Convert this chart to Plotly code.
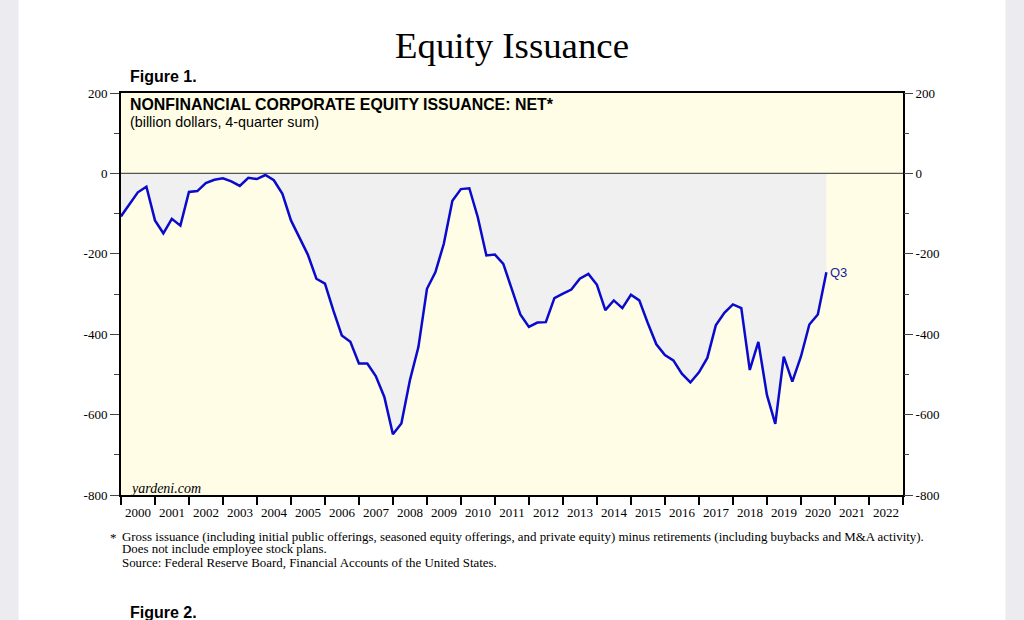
import plotly.graph_objects as go
import pandas as pd

# Net equity issuance, nonfinancial corporate, billion $, 4-quarter sum (quarterly, 1999Q4..2020Q3)
first_quarter_end = "1999-12-31"
net_issuance = [
    -107, -76, -47, -33, -117, -149, -113, -130, -46, -44,
    -24, -16, -12, -20, -31, -11, -14, -4, -17, -51,
    -117, -159, -202, -262, -274, -341, -403, -419, -473, -473,
    -504, -556, -649, -622, -515, -432, -287, -246, -175, -68,
    -39, -37, -109, -204, -202, -225, -287, -351, -382, -371,
    -370, -310, -299, -289, -262, -250, -277, -340, -316, -335,
    -302, -316, -372, -425, -452, -465, -498, -520, -495, -459,
    -378, -347, -326, -335, -489, -419, -551, -623, -456, -518,
    -456, -376, -351, -246,
]
years = list(range(2000, 2023))
y_ticks = [200, 0, -200, -400, -600, -800]
y_ticktext = ["200", "0", "-200", "-400", "-600", "-800"]
last_label = "Q3"

dates = pd.date_range(first_quarter_end, periods=len(net_issuance), freq="QE")
year_mid = [f"{y}-07-02" for y in years]

SERIF = "Liberation Serif, Times New Roman, serif"
SANS = "Liberation Sans, Arial, sans-serif"

fig = go.Figure()
fig.add_trace(go.Scatter(
    x=dates, y=net_issuance, mode="lines",
    line=dict(color="#0A0ACD", width=2.5),
    fill="tozeroy", fillcolor="#F0F0F0",
    showlegend=False, hoverinfo="skip",
))
# invisible trace for right axis
fig.add_trace(go.Scatter(
    x=dates, y=net_issuance, yaxis="y2", mode="lines",
    line=dict(width=0, color="rgba(0,0,0,0)"), showlegend=False, hoverinfo="skip",
))

fig.add_hline(y=0, line=dict(color="#555555", width=1.2))

fig.add_annotation(x=dates[-1], y=net_issuance[-1], text=last_label, showarrow=False,
                   xanchor="left", yanchor="middle", xshift=2,
                   font=dict(family=SANS, size=13, color="#1a1aa0"))

yaxis_common = dict(
    range=[-800, 200], tickvals=y_ticks, ticktext=y_ticktext,
    ticks="outside", ticklen=9, tickwidth=1, tickcolor="#444",
    tickfont=dict(family=SERIF, size=13, color="black"),
    showgrid=False, zeroline=False,
    minor=dict(dtick=100, tick0=0, ticks="outside", ticklen=5, tickcolor="#444", showgrid=False),
)

fig.update_layout(
    width=1024, height=620, autosize=False,
    margin=dict(l=121, r=121, t=93, b=125, pad=0),
    paper_bgcolor="white", plot_bgcolor="#FFFDE6",
    xaxis=dict(
        type="date", range=["2000-01-01", "2023-01-01"],
        tickvals=year_mid, ticktext=[str(y) for y in years],
        ticks="", tickfont=dict(family=SERIF, size=13, color="black"),
        ticklabelstandoff=4,
        showgrid=False, zeroline=False,
        showline=True, linecolor="black", linewidth=2, mirror=True,
        minor=dict(tick0="2000-01-01", dtick="M12", ticks="outside", ticklen=8,
                   tickwidth=2, tickcolor="black", showgrid=False),
    ),
    yaxis=dict(**yaxis_common, side="left", showline=True, linecolor="black",
               linewidth=2, mirror=True),
    yaxis2=dict(**yaxis_common, side="right", overlaying="y", showline=False),
)

# page gray edges
fig.add_shape(type="rect", xref="paper", yref="paper", x0=-0.16, x1=-0.131, y0=-0.4, y1=1.3,
              fillcolor="#ECECF0", line_width=0, layer="below")
fig.add_shape(type="rect", xref="paper", yref="paper", x0=1.131, x1=1.16, y0=-0.4, y1=1.3,
              fillcolor="#ECECF0", line_width=0, layer="below")

ann = [
    dict(text="Equity Issuance", x=0.5, y=1.0 + (93 - 46) / 402, xanchor="center", yanchor="middle",
         font=dict(family=SERIF, size=36.8, color="black")),
    dict(text="<b>Figure 1.</b>", x=(128 - 121) / 782, y=1.0 + (93 - 77) / 402, xanchor="left", yanchor="middle",
         font=dict(family=SANS, size=16, color="black")),
    dict(text="<b>NONFINANCIAL CORPORATE EQUITY ISSUANCE: NET*</b>", x=(128 - 121) / 782,
         y=1.0 - (104 - 93) / 402, xanchor="left", yanchor="middle",
         font=dict(family=SANS, size=15.9, color="black")),
    dict(text="(billion dollars, 4-quarter sum)", x=(128 - 121) / 782,
         y=1.0 - (122 - 93) / 402, xanchor="left", yanchor="middle",
         font=dict(family=SANS, size=14.3, color="black")),
    dict(text="<i>yardeni.com</i>", x=(128 - 121) / 782, y=(495 - 488) / 402,
         xanchor="left", yanchor="middle", font=dict(family=SERIF, size=14, color="black")),
    dict(text="*", x=(113 - 121) / 782, y=-(537 - 495) / 402, xanchor="center", yanchor="middle",
         font=dict(family=SERIF, size=13, color="black")),
    dict(text="Gross issuance (including initial public offerings, seasoned equity offerings, and private equity) minus retirements (including buybacks and M&A activity).",
         x=(120 - 121) / 782, y=-(537 - 495) / 402, xanchor="left", yanchor="middle",
         font=dict(family=SERIF, size=12.9, color="black")),
    dict(text="Does not include employee stock plans.",
         x=(120 - 121) / 782, y=-(549 - 495) / 402, xanchor="left", yanchor="middle",
         font=dict(family=SERIF, size=12.9, color="black")),
    dict(text="Source: Federal Reserve Board, Financial Accounts of the United States.",
         x=(120 - 121) / 782, y=-(563 - 495) / 402, xanchor="left", yanchor="middle",
         font=dict(family=SERIF, size=12.9, color="black")),
    dict(text="<b>Figure 2.</b>", x=(128 - 121) / 782, y=-(612 - 495) / 402, xanchor="left", yanchor="middle",
         font=dict(family=SANS, size=16, color="black")),
]
for a in ann:
    fig.add_annotation(xref="paper", yref="paper", showarrow=False, **a)

fig.write_html("out.html", config={"displayModeBar": False},
               post_script="document.body.style.margin='0';document.body.style.overflow='hidden';")
